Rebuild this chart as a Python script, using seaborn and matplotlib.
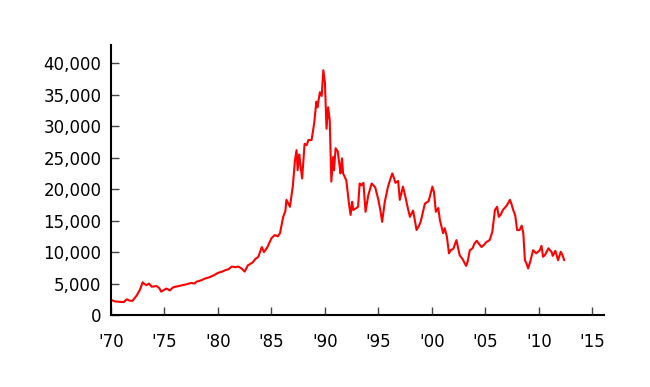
import pandas as pd
import matplotlib
matplotlib.use("Agg")
import matplotlib.pyplot as plt
import seaborn as sns

# Nikkei 225 level (year, index value)
years = [
    1970.0, 1970.4, 1970.84, 1971.2, 1971.46, 1971.7, 1972.0, 1972.4, 1972.7, 1972.96,
    1973.15, 1973.33, 1973.55, 1973.8, 1974.0, 1974.26, 1974.5, 1974.7, 1974.95, 1975.2,
    1975.5, 1975.8, 1976.2, 1976.5, 1976.75, 1977.1, 1977.5, 1977.8, 1978.0, 1978.4,
    1978.8, 1979.2, 1979.6, 1980.0, 1980.4, 1980.65, 1981.0, 1981.3, 1981.6, 1981.9,
    1982.2, 1982.5, 1982.8, 1983.2, 1983.5, 1983.77, 1984.1, 1984.3, 1984.6, 1985.0,
    1985.3, 1985.6, 1985.8, 1986.1, 1986.3, 1986.4, 1986.55, 1986.73, 1987.0, 1987.2,
    1987.35, 1987.45, 1987.6, 1987.7, 1987.87, 1988.1, 1988.3, 1988.45, 1988.75, 1989.0,
    1989.2, 1989.3, 1989.53, 1989.7, 1989.85, 1990.0, 1990.15, 1990.3, 1990.45, 1990.6,
    1990.77, 1990.85, 1991.0, 1991.2, 1991.35, 1991.45, 1991.6, 1991.7, 1992.0, 1992.25,
    1992.4, 1992.55, 1992.65, 1992.95, 1993.1, 1993.25, 1993.4, 1993.6, 1993.8, 1994.05,
    1994.37, 1994.7, 1995.0, 1995.2, 1995.35, 1995.6, 1995.9, 1996.1, 1996.3, 1996.45,
    1996.6, 1996.85, 1997.0, 1997.3, 1997.55, 1997.75, 1997.95, 1998.25, 1998.57, 1998.8,
    1998.95, 1999.35, 1999.7, 2000.05, 2000.2, 2000.37, 2000.6, 2000.75, 2001.05, 2001.2,
    2001.4, 2001.6, 2001.75, 2002.0, 2002.3, 2002.6, 2002.9, 2003.2, 2003.35, 2003.55,
    2003.8, 2004.0, 2004.2, 2004.45, 2004.65, 2004.9, 2005.1, 2005.4, 2005.65, 2005.9,
    2006.1, 2006.26, 2006.45, 2006.65, 2007.0, 2007.3, 2007.45, 2007.6, 2007.8, 2007.97,
    2008.2, 2008.4, 2008.55, 2008.7, 2008.85, 2009.0, 2009.2, 2009.47, 2009.75, 2010.1,
    2010.25, 2010.4, 2010.6, 2010.9, 2011.2, 2011.3, 2011.55, 2011.8, 2012.05, 2012.2,
    2012.37,
]
values = [
    2400, 2150, 2100, 2050, 2500, 2300, 2250, 3100, 4000, 5200,
    4900, 4750, 5000, 4500, 4550, 4600, 4300, 3700, 4000, 4200,
    3900, 4400, 4550, 4650, 4750, 4900, 5100, 5000, 5300, 5500,
    5800, 6000, 6300, 6700, 6900, 7100, 7300, 7700, 7600, 7700,
    7400, 6900, 7900, 8300, 8900, 9250, 10800, 10000, 10700, 12200,
    12700, 12500, 13000, 15600, 16500, 18300, 17800, 17200, 20500, 24600,
    26200, 23000, 25500, 24000, 21700, 27200, 27000, 27800, 27800, 30500,
    33900, 33000, 35400, 34800, 38900, 37000, 29600, 33000, 31000, 21200,
    25100, 23000, 26500, 26000, 24000, 22500, 24900, 22500, 21400, 17700,
    15900, 18000, 16700, 17000, 17200, 20900, 20600, 21000, 16400, 19000,
    20900, 20300, 18300, 16500, 14800, 18000, 20400, 21500, 22500, 21800,
    21000, 21300, 18300, 20400, 18600, 17000, 15600, 16600, 13500, 14200,
    14800, 17700, 18100, 20400, 19500, 16400, 17000, 15100, 13000, 13800,
    12500, 9800, 10300, 10500, 11900, 9500, 8800, 7800, 8500, 10300,
    10600, 11400, 11800, 11200, 10800, 11200, 11600, 11900, 13200, 16700,
    17200, 15600, 16000, 16700, 17400, 18300, 17600, 16700, 15800, 13500,
    13500, 14200, 13000, 8700, 8200, 7400, 8500, 10300, 9800, 10300,
    11000, 9250, 9600, 10600, 10000, 9400, 10200, 8700, 10050, 9600,
    8700,
]
tick_years = [1970, 1975, 1980, 1985, 1990, 1995, 2000, 2005, 2010, 2015]
tick_labels = ["'70", "'75", "'80", "'85", "'90", "'95", "'00", "'05", "'10", "'15"]
y_ticks = [0, 5000, 10000, 15000, 20000, 25000, 30000, 35000, 40000]

df = pd.DataFrame({"year": years, "nikkei": values})

sns.set_style("ticks")
plt.rcParams["font.family"] = ["DejaVu Sans"]

fig = plt.figure(figsize=(6.5, 3.87), dpi=100)
ax = fig.add_axes([0.1708, 0.186, 0.7585, 0.6977])

sns.lineplot(data=df, x="year", y="nikkei", color="red", linewidth=1.5, ax=ax)

ax.set_xlim(1970, 2016.1)
ax.set_ylim(0, 42900)
ax.set_xticks(tick_years)
ax.set_xticklabels(tick_labels)
ax.set_yticks(y_ticks)
ax.set_yticklabels([f"{v:,}" for v in y_ticks])
ax.set_xlabel("")
ax.set_ylabel("")

for side in ["top", "right"]:
    ax.spines[side].set_visible(False)
for side in ["left", "bottom"]:
    ax.spines[side].set_linewidth(1.5)
    ax.spines[side].set_color("black")

ax.tick_params(axis="x", direction="in", length=6, width=1, color="#444444",
               pad=13, labelsize=12, labelcolor="black")
ax.tick_params(axis="y", direction="in", length=6, width=1, color="#444444",
               pad=7, labelsize=12, labelcolor="black")

fig.savefig("out.png", dpi=100)
